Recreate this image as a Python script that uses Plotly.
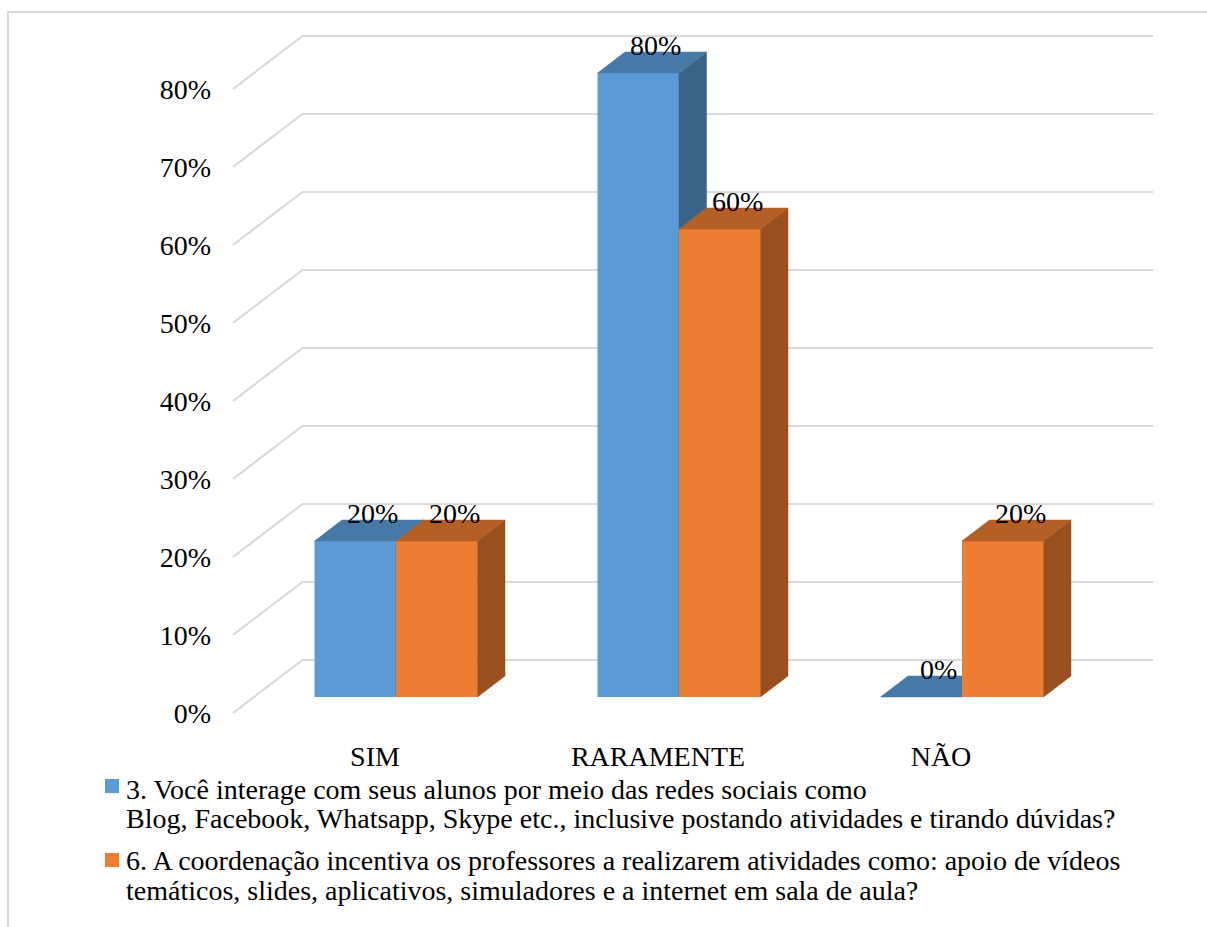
import plotly.graph_objects as go

# ---- data -------------------------------------------------------------
categories = ["SIM", "RARAMENTE", "NÃO"]
q3_values = [20, 80, 0]
q6_values = [20, 60, 20]
tick_values = [0, 10, 20, 30, 40, 50, 60, 70, 80]
q3_label = [
    "3. Você interage com seus alunos por meio das redes sociais como",
    "Blog, Facebook, Whatsapp, Skype etc., inclusive postando atividades e tirando dúvidas?",
]
q6_label = [
    "6. A coordenação incentiva os professores a realizarem atividades como: apoio de vídeos",
    "temáticos, slides, aplicativos, simuladores e a internet em sala de aula?",
]

# ---- styling ----------------------------------------------------------
BLUE = dict(front="#5B9BD5", top="#4779A6", side="#3A6388")
ORANGE = dict(front="#ED7D31", top="#B45F25", side="#98501F")
GRID = "#D9D9D9"
FONT = "Liberation Serif"
FS = 28

# ---- page geometry / oblique projection -------------------------------
W, H = 1207, 927
PX_CAT = 283.0          # pixels per category step
PX_PCT = 7.8            # pixels per percentage point
ORIGIN = (396.0, 697.0)  # pixel of (category 0, 0 %) on the bar plane


def dx(px):
    return px / PX_CAT


def dy(px):
    return px / PX_PCT


x_range = [-ORIGIN[0] / PX_CAT, (W - ORIGIN[0]) / PX_CAT]
y_range = [-(H - ORIGIN[1]) / PX_PCT, ORIGIN[1] / PX_PCT]

BAR_W = dx(81.5)
DEPTH = (dx(27.5), dy(21))     # bar depth offset
FRONT = (dx(-21), dy(-16))     # bar plane -> front edge of the floor
BACK = (dx(48.5), dy(37))      # bar plane -> back wall
WALL_LEFT = dx(254 - ORIGIN[0])
WALL_RIGHT = dx(1153 - ORIGIN[0])

fig = go.Figure()

# ---- walls: back gridlines + side-wall diagonals ----------------------
gx, gy = [], []
for v in tick_values:
    gx += [WALL_LEFT + FRONT[0], WALL_LEFT + BACK[0], WALL_RIGHT, None]
    gy += [v + FRONT[1], v + BACK[1], v + BACK[1], None]
fig.add_trace(go.Scatter(x=gx, y=gy, mode="lines", line=dict(color=GRID, width=2.2),
                         hoverinfo="skip", showlegend=False, xaxis="x", yaxis="y"))


def add_series(values, offset, colors, name, axis_id):
    xa, ya = f"x{axis_id}", f"y{axis_id}"
    xs = list(range(len(values)))
    # front faces
    fig.add_trace(go.Bar(x=xs, y=values, width=BAR_W, offset=offset,
                         marker=dict(color=colors["front"], line=dict(width=0)),
                         name=name, showlegend=False, xaxis=xa, yaxis=ya))
    # top and side faces
    for i, v in zip(xs, values):
        x0 = i + offset
        x1 = x0 + BAR_W
        side_x = [x1, x1 + DEPTH[0], x1 + DEPTH[0], x1, x1]
        side_y = [0, DEPTH[1], v + DEPTH[1], v, 0]
        top_x = [x0, x1, x1 + DEPTH[0], x0 + DEPTH[0], x0]
        top_y = [v, v, v + DEPTH[1], v + DEPTH[1], v]
        for px_, py_, c in ((side_x, side_y, colors["side"]), (top_x, top_y, colors["top"])):
            fig.add_trace(go.Scatter(x=px_, y=py_, mode="lines", fill="toself",
                                     fillcolor=c, line=dict(width=0.5, color=c),
                                     hoverinfo="skip", showlegend=False,
                                     xaxis=xa, yaxis=ya))


add_series(q3_values, -BAR_W, BLUE, q3_label[0], 2)
add_series(q6_values, 0.0, ORANGE, q6_label[0], 3)

# ---- value labels -----------------------------------------------------
annotations = []
for values, offset in ((q3_values, -BAR_W), (q6_values, 0.0)):
    for i, v in enumerate(values):
        annotations.append(dict(
            x=i + offset + BAR_W / 2 + DEPTH[0] * 0.64, y=v + DEPTH[1] + dy(7),
            xref="x", yref="y", text=f"{v}%", showarrow=False,
            xanchor="center", yanchor="middle",
            font=dict(family=FONT, size=FS, color="black")))

# ---- legend (drawn by hand: square swatch + two text lines) -----------
shapes = [dict(type="rect", xref="paper", yref="paper",
               x0=8 / W, x1=1.05, y0=-0.05, y1=1 - 12 / H,
               line=dict(color=GRID, width=2), fillcolor="rgba(0,0,0,0)", layer="below")]
legend_items = [(q3_label, BLUE["front"], 779, (789, 818)),
                (q6_label, ORANGE["front"], 853, (860, 890))]
for lines, color, sq_top, line_ys in legend_items:
    shapes.append(dict(type="rect", xref="paper", yref="paper",
                       x0=105 / W, x1=119 / W, y0=1 - (sq_top + 14) / H, y1=1 - sq_top / H,
                       line=dict(width=0), fillcolor=color))
    for text, ly in zip(lines, line_ys):
        annotations.append(dict(x=124 / W, y=1 - ly / H, xref="paper", yref="paper",
                                text=text, showarrow=False, xanchor="left", yanchor="middle",
                                align="left", font=dict(family=FONT, size=FS, color="black")))

hidden = dict(range=x_range, visible=False, fixedrange=True)
fig.update_layout(
    width=W, height=H, margin=dict(l=0, r=0, t=0, b=0),
    paper_bgcolor="white", plot_bgcolor="white",
    showlegend=False, shapes=shapes, annotations=annotations,
    font=dict(family=FONT, size=FS, color="black"),
    xaxis=dict(range=x_range, anchor="free", position=(H - 737) / H,
               tickvals=[i + FRONT[0] for i in range(len(categories))],
               ticktext=categories, showgrid=False, zeroline=False, showline=False,
               ticks="", tickfont=dict(family=FONT, size=FS, color="black"), fixedrange=True),
    yaxis=dict(range=y_range, anchor="free", position=211 / W,
               tickvals=[v + FRONT[1] for v in tick_values],
               ticktext=[f"{v}%" for v in tick_values], showgrid=False, zeroline=False,
               showline=False, ticks="", tickfont=dict(family=FONT, size=FS, color="black"),
               fixedrange=True),
    xaxis2=dict(hidden, overlaying="x"), yaxis2=dict(range=y_range, visible=False,
                                                     fixedrange=True, overlaying="y"),
    xaxis3=dict(hidden, overlaying="x"), yaxis3=dict(range=y_range, visible=False,
                                                     fixedrange=True, overlaying="y"),
)

fig.write_html("out.html")
